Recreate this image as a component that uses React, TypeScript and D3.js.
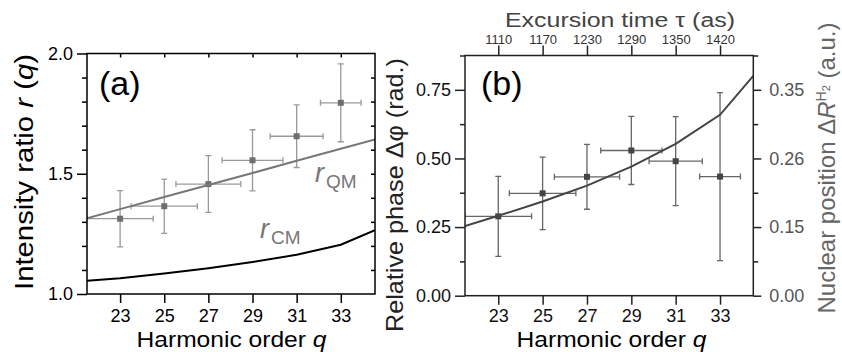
import { useEffect, useRef } from "react";
import * as d3 from "d3";

// measured harmonics and their horizontal uncertainty
const harmonics = [23, 25, 27, 29, 31, 33];
const qErr = [1.5, 1.5, 1.47, 1.38, 1.2, 0.92];

// panel (a): intensity ratio
const ratioMeas = [1.313, 1.365, 1.457, 1.556, 1.656, 1.795];
const ratioErr = [0.117, 0.113, 0.118, 0.127, 0.13, 0.162];
const modelQ = [21.5, 23, 25, 27, 29, 31, 33, 34.55];
const rQM = [1.315, 1.353, 1.403, 1.453, 1.503, 1.554, 1.604, 1.643];
const rCM = [1.055, 1.065, 1.085, 1.107, 1.133, 1.163, 1.205, 1.265];

// panel (b): relative phase
const phaseMeas = [0.289, 0.373, 0.433, 0.529, 0.49, 0.434];
const phaseErr = [0.146, 0.132, 0.118, 0.124, 0.162, 0.306];
const curveQ = [21.5, 23, 25, 27, 29, 31, 33, 34.5];
const phaseModel = [0.254, 0.291, 0.343, 0.401, 0.47, 0.553, 0.659, 0.801];

const excursionLabels = ["1110", "1170", "1230", "1290", "1350", "1420"];
const phaseTicks = [0, 0.25, 0.5, 0.75];
const phaseMinor = [0.125, 0.375, 0.625, 0.875];
const positionLabels = ["0.00", "0.15", "0.26", "0.35"];
const ratioTicks = [1.0, 1.5, 2.0];
const ratioMinor = [1.1, 1.2, 1.3, 1.4, 1.6, 1.7, 1.8, 1.9];

const FONT = "'Liberation Sans', Arial, Helvetica, sans-serif";

export default function App() {
  const ref = useRef<SVGSVGElement>(null);

  useEffect(() => {
    const svg = d3.select(ref.current);
    svg.selectAll("*").remove();
    svg.attr("font-family", FONT);

    const xA = d3.scaleLinear().domain([21.5, 34.55]).range([87, 375]);
    const yA = d3.scaleLinear().domain([1, 2]).range([294, 53.5]);
    const xB = d3.scaleLinear().domain([21.5, 34.5]).range([465, 753.3]);
    const yB = d3.scaleLinear().domain([0, 0.875]).range([295.7, 55.5]);

    // styling helper for axes
    const styleAxis = (g, color, textColor, size = 18) => {
      g.select(".domain").remove();
      g.attr("font-family", FONT).attr("font-size", size);
      g.selectAll("line").attr("stroke", color).attr("stroke-width", 1.5);
      g.selectAll("text").attr("fill", textColor);
    };

    const clip = (id, x, y) => {
      svg
        .append("clipPath")
        .attr("id", id)
        .append("rect")
        .attr("x", x.range()[0])
        .attr("y", y.range()[1])
        .attr("width", x.range()[1] - x.range()[0])
        .attr("height", y.range()[0] - y.range()[1]);
    };
    clip("clipA", xA, yA);
    clip("clipB", xB, yB);

    const errorBars = (g, x, y, vals, errs, barColor, markColor) => {
      const cap = 3;
      harmonics.forEach((q, i) => {
        const cx = x(q);
        const cy = y(vals[i]);
        const y0 = y(vals[i] - errs[i]);
        const y1 = y(vals[i] + errs[i]);
        const x0 = x(q - qErr[i]);
        const x1 = x(q + qErr[i]);
        const segs = [
          [cx, y0, cx, y1],
          [cx - cap, y0, cx + cap, y0],
          [cx - cap, y1, cx + cap, y1],
          [x0, cy, x1, cy],
          [x0, cy - cap, x0, cy + cap],
          [x1, cy - cap, x1, cy + cap],
        ];
        segs.forEach(([a, b, c, d]) =>
          g
            .append("line")
            .attr("x1", a)
            .attr("y1", b)
            .attr("x2", c)
            .attr("y2", d)
            .attr("stroke", barColor)
            .attr("stroke-width", 1.3)
        );
        g.append("rect")
          .attr("x", cx - 3)
          .attr("y", cy - 3)
          .attr("width", 6)
          .attr("height", 6)
          .attr("fill", markColor);
      });
    };

    // ---------------- panel (a) ----------------
    const gA = svg.append("g");
    const axA = "#000";

    gA.append("g")
      .attr("transform", `translate(${xA.range()[0]},0)`)
      .call(d3.axisLeft(yA).tickValues(ratioTicks).tickSize(10).tickPadding(4).tickFormat(d3.format(".1f")))
      .call((g) => styleAxis(g, axA, "#000"));
    gA.append("g")
      .attr("transform", `translate(${xA.range()[0]},0)`)
      .call(d3.axisLeft(yA).tickValues(ratioMinor).tickSize(5).tickFormat(() => ""))
      .call((g) => styleAxis(g, axA, "#000"));
    gA.append("g")
      .attr("transform", `translate(${xA.range()[1]},0)`)
      .call(d3.axisRight(yA).tickValues(ratioMinor.concat([1.5])).tickSize(-4).tickFormat(() => ""))
      .call((g) => styleAxis(g, axA, "#000"));
    gA.append("g")
      .attr("transform", `translate(0,${yA.range()[0]})`)
      .call(d3.axisBottom(xA).tickValues(harmonics).tickSize(9).tickPadding(6).tickFormat(d3.format("d")))
      .call((g) => styleAxis(g, axA, "#000"));
    gA.append("g")
      .attr("transform", `translate(0,${yA.range()[1]})`)
      .call(d3.axisTop(xA).tickValues(harmonics).tickSize(-4).tickFormat(() => ""))
      .call((g) => styleAxis(g, axA, "#000"));

    const dataA = gA.append("g").attr("clip-path", "url(#clipA)");
    const lineA = d3
      .line<number>()
      .x((_, i) => xA(modelQ[i]))
      .y((d) => yA(d));
    dataA
      .append("path")
      .attr("d", lineA(rCM))
      .attr("fill", "none")
      .attr("stroke", "#000")
      .attr("stroke-width", 2);
    errorBars(dataA, xA, yA, ratioMeas, ratioErr, "#999", "#6e6e6e");
    dataA
      .append("path")
      .attr("d", lineA(rQM))
      .attr("fill", "none")
      .attr("stroke", "#777")
      .attr("stroke-width", 2);

    gA.append("rect")
      .attr("x", xA.range()[0])
      .attr("y", yA.range()[1])
      .attr("width", xA.range()[1] - xA.range()[0])
      .attr("height", yA.range()[0] - yA.range()[1])
      .attr("fill", "none")
      .attr("stroke", axA)
      .attr("stroke-width", 1.5);

    gA.append("text").attr("x", 99).attr("y", 95).attr("font-size", 34).text("(a)");

    const qmLabel = gA.append("text").attr("x", 315).attr("y", 182).attr("fill", "#777");
    qmLabel.append("tspan").attr("font-size", 27).attr("font-style", "italic").text("r");
    qmLabel.append("tspan").attr("font-size", 19).attr("dx", 2).attr("dy", 6).text("QM");
    const cmLabel = gA.append("text").attr("x", 260).attr("y", 238).attr("fill", "#777");
    cmLabel.append("tspan").attr("font-size", 27).attr("font-style", "italic").text("r");
    cmLabel.append("tspan").attr("font-size", 19).attr("dx", 2).attr("dy", 6).text("CM");

    const xTitleA = gA
      .append("text")
      .attr("x", 231.5)
      .attr("y", 347)
      .attr("text-anchor", "middle")
      .attr("font-size", 22)
      .attr("textLength", 190)
      .attr("lengthAdjust", "spacingAndGlyphs");
    xTitleA.append("tspan").text("Harmonic order ");
    xTitleA.append("tspan").attr("font-style", "italic").text("q");

    const yTitleA = gA
      .append("text")
      .attr("transform", "translate(33,172) rotate(-90)")
      .attr("text-anchor", "middle")
      .attr("font-size", 25)
      .attr("textLength", 236)
      .attr("lengthAdjust", "spacingAndGlyphs");
    yTitleA.append("tspan").text("Intensity ratio ");
    yTitleA.append("tspan").attr("font-style", "italic").text("r");
    yTitleA.append("tspan").text(" (");
    yTitleA.append("tspan").attr("font-style", "italic").text("q");
    yTitleA.append("tspan").text(")");

    // ---------------- panel (b) ----------------
    const gB = svg.append("g");
    const axB = "#222";

    gB.append("g")
      .attr("transform", `translate(${xB.range()[0]},0)`)
      .call(d3.axisLeft(yB).tickValues(phaseTicks).tickSize(10).tickPadding(4).tickFormat(d3.format(".2f")))
      .call((g) => styleAxis(g, axB, "#111"));
    gB.append("g")
      .attr("transform", `translate(${xB.range()[0]},0)`)
      .call(d3.axisLeft(yB).tickValues(phaseMinor).tickSize(5).tickFormat(() => ""))
      .call((g) => styleAxis(g, axB, "#111"));
    gB.append("g")
      .attr("transform", `translate(${xB.range()[1]},0)`)
      .call(
        d3
          .axisRight(yB)
          .tickValues(phaseTicks)
          .tickSize(8)
          .tickPadding(8)
          .tickFormat((_, i) => positionLabels[i])
      )
      .call((g) => styleAxis(g, axB, "#555"));
    gB.append("g")
      .attr("transform", `translate(${xB.range()[1]},0)`)
      .call(d3.axisRight(yB).tickValues(phaseMinor).tickSize(5).tickFormat(() => ""))
      .call((g) => styleAxis(g, axB, "#555"));
    gB.append("g")
      .attr("transform", `translate(0,${yB.range()[0]})`)
      .call(d3.axisBottom(xB).tickValues(harmonics).tickSize(9).tickPadding(5).tickFormat(d3.format("d")))
      .call((g) => styleAxis(g, axB, "#111"));
    gB.append("g")
      .attr("transform", `translate(0,${yB.range()[1]})`)
      .call(
        d3
          .axisTop(xB)
          .tickValues(harmonics)
          .tickSize(10)
          .tickPadding(2)
          .tickFormat((_, i) => excursionLabels[i])
      )
      .call((g) => styleAxis(g, axB, "#333", 13));

    const dataB = gB.append("g").attr("clip-path", "url(#clipB)");
    errorBars(dataB, xB, yB, phaseMeas, phaseErr, "#666", "#444");
    const lineB = d3
      .line<number>()
      .x((_, i) => xB(curveQ[i]))
      .y((d) => yB(d));
    dataB
      .append("path")
      .attr("d", lineB(phaseModel))
      .attr("fill", "none")
      .attr("stroke", "#444")
      .attr("stroke-width", 2);

    gB.append("rect")
      .attr("x", xB.range()[0])
      .attr("y", yB.range()[1])
      .attr("width", xB.range()[1] - xB.range()[0])
      .attr("height", yB.range()[0] - yB.range()[1])
      .attr("fill", "none")
      .attr("stroke", axB)
      .attr("stroke-width", 1.5);

    gB.append("text").attr("x", 481).attr("y", 95).attr("font-size", 34).text("(b)");

    const xTitleB = gB
      .append("text")
      .attr("x", 611.5)
      .attr("y", 347)
      .attr("text-anchor", "middle")
      .attr("font-size", 22)
      .attr("textLength", 190)
      .attr("lengthAdjust", "spacingAndGlyphs");
    xTitleB.append("tspan").text("Harmonic order ");
    xTitleB.append("tspan").attr("font-style", "italic").text("q");

    gB.append("text")
      .attr("x", 620)
      .attr("y", 27)
      .attr("text-anchor", "middle")
      .attr("font-size", 20)
      .attr("fill", "#444")
      .attr("textLength", 230)
      .attr("lengthAdjust", "spacingAndGlyphs")
      .text("Excursion time τ (as)");

    gB.append("text")
      .attr("transform", "translate(403,195) rotate(-90)")
      .attr("text-anchor", "middle")
      .attr("font-size", 24)
      .attr("fill", "#222")
      .attr("textLength", 274)
      .attr("lengthAdjust", "spacingAndGlyphs")
      .text("Relative phase Δφ (rad.)");

    const yTitleR = gB
      .append("text")
      .attr("transform", "translate(835,168) rotate(-90)")
      .attr("text-anchor", "middle")
      .attr("font-size", 24)
      .attr("fill", "#666");
    yTitleR.append("tspan").text("Nuclear position Δ");
    yTitleR.append("tspan").attr("font-style", "italic").text("R");
    yTitleR.append("tspan").attr("font-size", 14).attr("dy", -9).text("H");
    yTitleR.append("tspan").attr("font-size", 11).attr("dy", 4).text("2");
    yTitleR.append("tspan").attr("dy", 5).text(" (a.u.)");
  }, []);

  return (
    <svg
      ref={ref}
      width={842}
      height={352}
      style={{ position: "absolute", left: 0, top: 0, background: "#fff" }}
    />
  );
}
